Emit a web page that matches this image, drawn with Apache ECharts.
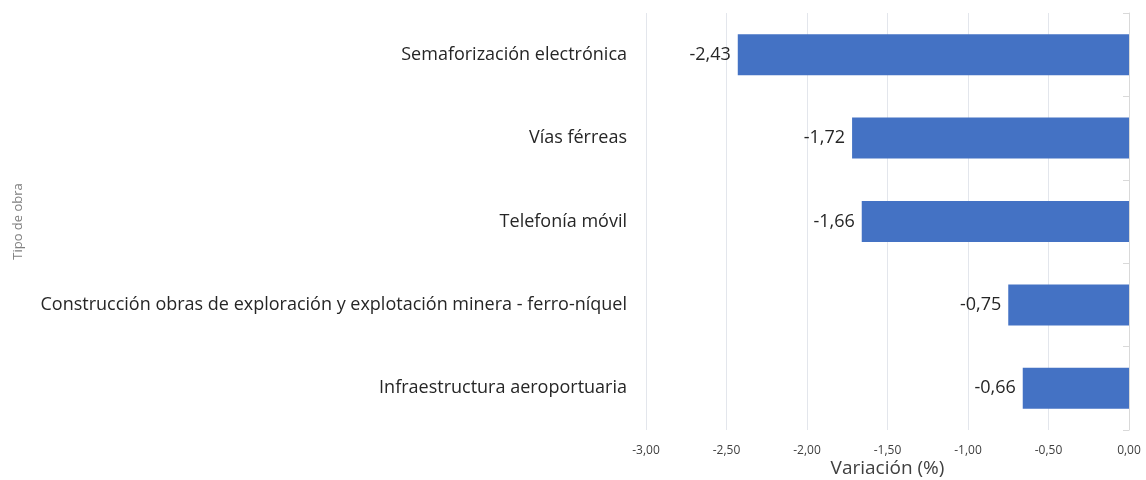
<!DOCTYPE html>
<html>
<head>
<meta charset="utf-8">
<script src="https://cdn.jsdelivr.net/npm/echarts@6/dist/echarts.min.js"></script>
<style>
  html, body { margin: 0; padding: 0; background: #fff; }
  #chart { width: 1146px; height: 480px; }
</style>
</head>
<body>
<div id="chart"></div>
<script>
// datos
const categories = [
  "Semaforización electrónica",
  "Vías férreas",
  "Telefonía móvil",
  "Construcción obras de exploración y explotación minera - ferro-níquel",
  "Infraestructura aeroportuaria",
];
const variacion = [-2.43, -1.72, -1.66, -0.75, -0.66];

const fmt = (v) => v.toFixed(2).replace(".", ",");
const font = "'Open Sans', 'Noto Sans', sans-serif";

const chart = echarts.init(document.getElementById("chart"));
const option = {
  animation: false,
  grid: { left: 646, right: 17, top: 13, bottom: 50, outerBoundsMode: "none", containLabel: false },
  xAxis: {
    type: "value",
    min: -3,
    max: 0,
    interval: 0.5,
    name: "Variación (%)",
    nameLocation: "middle",
    nameGap: 29,
    nameMoveOverlap: false,
    nameTextStyle: { fontSize: 19, color: "#404040", fontFamily: font },
    axisLine: { show: false },
    axisTick: { show: false },
    axisLabel: {
      fontSize: 12,
      color: "#404040",
      fontFamily: font,
      margin: 15,
      formatter: (v) => fmt(v),
    },
    splitLine: { show: true, lineStyle: { color: "#e3e6ec", width: 1 } },
  },
  yAxis: [
    {
      type: "category",
      data: categories,
      inverse: true,
      position: "left",
      name: "Tipo de obra",
      nameLocation: "middle",
      nameRotate: 90,
      nameGap: 621,
      nameMoveOverlap: false,
      nameTextStyle: { fontSize: 13, color: "#7f7f7f", fontFamily: font },
      axisLine: { show: false, onZero: false },
      axisTick: { show: false },
      axisLabel: {
        fontSize: 18,
        color: "#262626",
        fontFamily: font,
        margin: 19,
      },
    },
    {
      type: "category",
      data: categories,
      inverse: true,
      position: "right",
      axisLine: { show: true, onZero: false, lineStyle: { color: "#d9d9d9" } },
      axisTick: { show: true, inside: true, length: 6, lineStyle: { color: "#d9d9d9" } },
      axisLabel: { show: false },
    },
  ],
  series: [
    {
      type: "bar",
      data: variacion,
      barWidth: 41,
      itemStyle: { color: "#4472c4" },
      label: {
        show: true,
        position: "left",
        distance: 7,
        fontSize: 18,
        color: "#262626",
        fontFamily: font,
        formatter: (p) => fmt(p.value),
      },
    },
  ],
};
chart.setOption(option);
</script>
</body>
</html>
